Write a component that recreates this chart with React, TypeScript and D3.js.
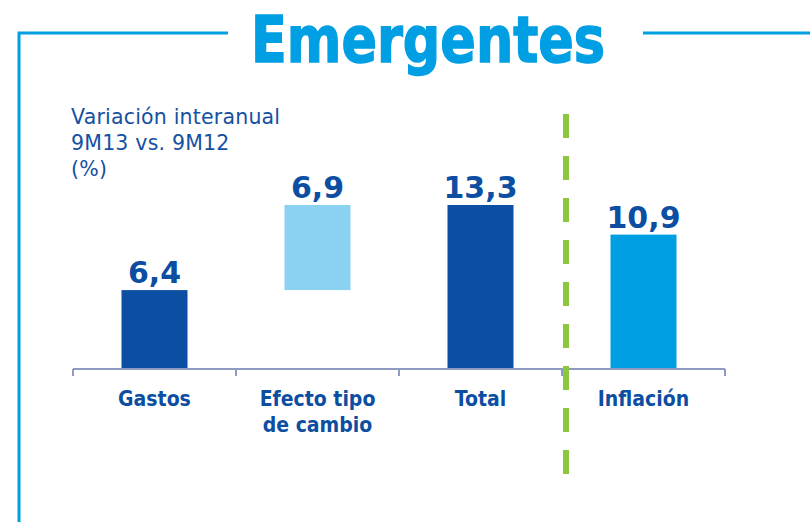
import React from "react";
import * as d3 from "d3";

const title = "Emergentes";
const subtitleLines = ["Variación interanual", "9M13 vs. 9M12", "(%)"];
const categories = ["Gastos", "Efecto tipo de cambio", "Total", "Inflación"];
const categoryLines = [["Gastos"], ["Efecto tipo", "de cambio"], ["Total"], ["Inflación"]];
const values = [6.4, 6.9, 13.3, 10.9];
const bases = [0, 6.4, 0, 0];
const barColors = ["#0b4ea2", "#8bd1f2", "#0b4ea2", "#009fe3"];

const W = 810;
const H = 522;

export default function App() {
  const x = d3.scaleBand<string>().domain(categories).range([73, 725]).paddingInner(0).paddingOuter(0);
  const y = d3.scaleLinear().domain([0, 14]).range([369, 369 - 14 * 12.33]);
  const barW = 66;
  const fmt = (v: number) => d3.format(".1f")(v).replace(".", ",");
  const ticks = [...categories.map((c) => x(c) as number), 725];
  const darkBlue = "#0b4ea2";
  const frameColor = "#009fe3";

  return (
    <div style={{ position: "absolute", left: 0, top: 0 }}>
      <svg width={W} height={H} style={{ display: "block", background: "#fff" }}>
        {/* frame */}
        <path d={`M19,${H} L19,33 L228,33`} fill="none" stroke={frameColor} strokeWidth={3} />
        <line x1={643} x2={W} y1={33} y2={33} stroke={frameColor} strokeWidth={3} />
        <text
          x={428}
          y={62}
          textAnchor="middle"
          fontFamily="DejaVu Sans"
          fontWeight="bold"
          fontSize={64}
          fill={frameColor}
          stroke={frameColor}
          strokeWidth={1.5}
          textLength={354}
          lengthAdjust="spacingAndGlyphs"
        >
          {title}
        </text>
        {/* subtitle */}
        {subtitleLines.map((s, i) => (
          <text
            key={i}
            x={71}
            y={124 + i * 26}
            fontFamily="DejaVu Sans"
            fontSize={20.5}
            letterSpacing={0.2}
            fill="#1550a3"
          >
            {s}
          </text>
        ))}
        {/* bars */}
        {categories.map((c, i) => {
          const cx = (x(c) as number) + x.bandwidth() / 2;
          const top = y(bases[i] + values[i]);
          const bottom = y(bases[i]);
          return (
            <g key={c}>
              <rect x={cx - barW / 2} y={top} width={barW} height={bottom - top} fill={barColors[i]} />
              <text
                x={cx}
                y={top - 7}
                textAnchor="middle"
                fontFamily="DejaVu Sans"
                fontWeight="bold"
                fontSize={30}
                fill={darkBlue}
              >
                {fmt(values[i])}
              </text>
              {categoryLines[i].map((l, j) => (
                <text
                  key={j}
                  x={cx}
                  y={406 + j * 26}
                  textAnchor="middle"
                  fontFamily="DejaVu Sans Condensed, DejaVu Sans"
                  fontStretch="condensed"
                  fontWeight="bold"
                  fontSize={21}
                  fill={darkBlue}
                >
                  {l}
                </text>
              ))}
            </g>
          );
        })}
        {/* axis */}
        <line x1={73} x2={725} y1={369} y2={369} stroke="#8e9ac0" strokeWidth={2} />
        {ticks.map((t, i) => (
          <line key={i} x1={t} x2={t} y1={369} y2={376} stroke="#8e9ac0" strokeWidth={2} />
        ))}
        {/* divider */}
        <line
          x1={566}
          x2={566}
          y1={114}
          y2={474}
          stroke="#8dc63f"
          strokeWidth={6}
          strokeDasharray="24 18"
        />
      </svg>
    </div>
  );
}
